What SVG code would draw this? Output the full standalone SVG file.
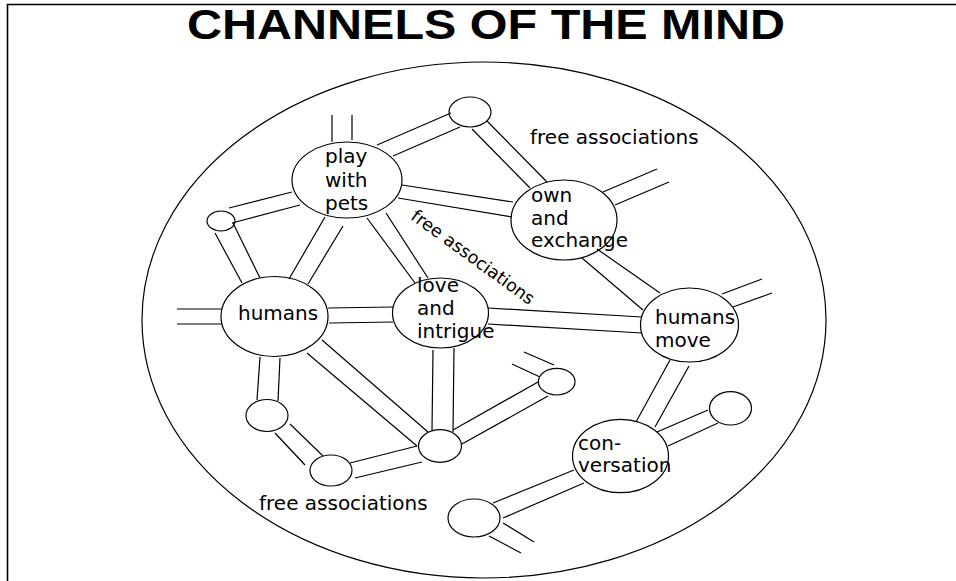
<svg xmlns="http://www.w3.org/2000/svg" width="956" height="581" viewBox="0 0 956 581">
<style>
.bg{fill:#fff}
.frame{stroke:#000;stroke-width:1.6;fill:none}
.node{fill:none;stroke:#000;stroke-width:1.2}
.ch line{stroke:#000;stroke-width:1.2}
.t{font-family:"DejaVu Sans",sans-serif;font-size:20px;fill:#000}
.title{font-family:"Liberation Sans",Arial,sans-serif;font-size:42px;font-weight:bold;fill:#000}
</style>
<rect class="bg" x="0" y="0" width="956" height="581"/>
<path class="frame" d="M7.5,581 V4.5 H956"/>
<text class="title" x="486" y="39" text-anchor="middle" textLength="598" lengthAdjust="spacingAndGlyphs">CHANNELS OF THE MIND</text>
<ellipse id="mind" class="node" cx="484" cy="320" rx="342" ry="258"/>
<g id="connectors" class="ch">
<line x1="332" y1="115" x2="332" y2="142"/><line x1="352" y1="115" x2="352" y2="140"/>
<line x1="377" y1="145" x2="451" y2="113"/><line x1="393" y1="156" x2="460" y2="127"/>
<line x1="487" y1="121" x2="547" y2="182"/><line x1="472" y1="129" x2="530" y2="188"/>
<line x1="402" y1="185" x2="513" y2="202"/><line x1="398" y1="198" x2="512" y2="217"/>
<line x1="603" y1="192" x2="657" y2="169"/><line x1="615" y1="205" x2="669" y2="182"/>
<line x1="582" y1="258" x2="643" y2="310"/><line x1="597" y1="249" x2="660" y2="293"/>
<line x1="229" y1="208" x2="292" y2="192"/><line x1="232" y1="223" x2="300" y2="205"/>
<line x1="215" y1="233" x2="242" y2="283"/><line x1="233" y1="223" x2="260" y2="278"/>
<line x1="325" y1="217" x2="289" y2="279"/><line x1="343" y1="226" x2="308" y2="284"/>
<line x1="367" y1="218" x2="415" y2="283"/><line x1="386" y1="213" x2="428" y2="278"/>
<line x1="177" y1="309" x2="222" y2="309"/><line x1="177" y1="324" x2="222" y2="324"/>
<line x1="328" y1="308" x2="393" y2="307"/><line x1="329" y1="323" x2="393" y2="322"/>
<line x1="488" y1="308" x2="642" y2="317"/><line x1="488" y1="324" x2="642" y2="333"/>
<line x1="722" y1="294" x2="762" y2="279"/><line x1="733" y1="307" x2="772" y2="293"/>
<line x1="670" y1="360" x2="636" y2="422"/><line x1="689" y1="366" x2="655" y2="427"/>
<line x1="657" y1="432" x2="708" y2="410"/><line x1="668" y1="446" x2="718" y2="423"/>
<line x1="574" y1="470" x2="493" y2="503"/><line x1="584" y1="483" x2="503" y2="518"/>
<line x1="503" y1="523" x2="534" y2="542"/><line x1="489" y1="536" x2="521" y2="553"/>
<line x1="433" y1="350" x2="432" y2="430"/><line x1="454" y1="348" x2="453" y2="432"/>
<line x1="453" y1="430" x2="538" y2="382"/><line x1="462" y1="444" x2="548" y2="396"/>
<line x1="524" y1="352" x2="554" y2="365"/><line x1="512" y1="364" x2="540" y2="377"/>
<line x1="322" y1="340" x2="428" y2="432"/><line x1="307" y1="353" x2="417" y2="446"/>
<line x1="350" y1="463" x2="417" y2="446"/><line x1="355" y1="478" x2="422" y2="462"/>
<line x1="260" y1="357" x2="257" y2="400"/><line x1="280" y1="358" x2="278" y2="401"/>
<line x1="290" y1="424" x2="323" y2="456"/><line x1="275" y1="433" x2="305" y2="465"/>
</g>
<g id="play-with-pets"><ellipse class="node" cx="347" cy="180" rx="55" ry="38"/>
<text class="t" x="325" y="163">play</text><text class="t" x="325" y="187">with</text><text class="t" x="325" y="210">pets</text></g>
<g id="small-top"><ellipse class="node" cx="470" cy="112" rx="21" ry="15"/></g>
<g id="own-and-exchange"><ellipse class="node" cx="564" cy="220" rx="53" ry="40"/>
<text class="t" x="531" y="202">own</text><text class="t" x="531" y="225">and</text><text class="t" x="531" y="247">exchange</text></g>
<g id="small-left"><ellipse class="node" cx="221" cy="221" rx="14" ry="10"/></g>
<g id="humans"><ellipse class="node" cx="274.5" cy="316.5" rx="53.5" ry="40"/>
<text class="t" x="238" y="320">humans</text></g>
<g id="love-and-intrigue"><ellipse class="node" cx="440.5" cy="313" rx="48" ry="35"/>
<text class="t" x="417" y="292">love</text><text class="t" x="417" y="315">and</text><text class="t" x="417" y="338">intrigue</text></g>
<g id="humans-move"><ellipse class="node" cx="689.5" cy="325" rx="49" ry="37"/>
<text class="t" x="655" y="324">humans</text><text class="t" x="655" y="347">move</text></g>
<g id="small-right"><ellipse class="node" cx="556.7" cy="381.7" rx="18.3" ry="13.3"/></g>
<g id="hub"><ellipse class="node" cx="440" cy="446" rx="21.5" ry="16.3"/></g>
<g id="conversation"><ellipse class="node" cx="620.5" cy="456" rx="48" ry="36.7"/>
<text class="t" x="578" y="450">con-</text><text class="t" x="578" y="472">versation</text></g>
<g id="small-conv-right"><ellipse class="node" cx="730.5" cy="408.3" rx="21" ry="16.7"/></g>
<g id="small-bottom"><ellipse class="node" cx="474" cy="518" rx="26" ry="19"/></g>
<g id="small-humans-below"><ellipse class="node" cx="267" cy="415.5" rx="21" ry="16"/></g>
<g id="small-bottom-mid"><ellipse class="node" cx="331" cy="470.5" rx="21" ry="15.5"/></g>
<g id="labels">
<text class="t" x="530" y="144">free associations</text>
<text class="t" x="259" y="510">free associations</text>
<text class="t" x="469.5" y="262" text-anchor="middle" font-size="17.5" transform="rotate(36 469.5 262)" style="font-size:17.5px">free associations</text>
</g>
</svg>
